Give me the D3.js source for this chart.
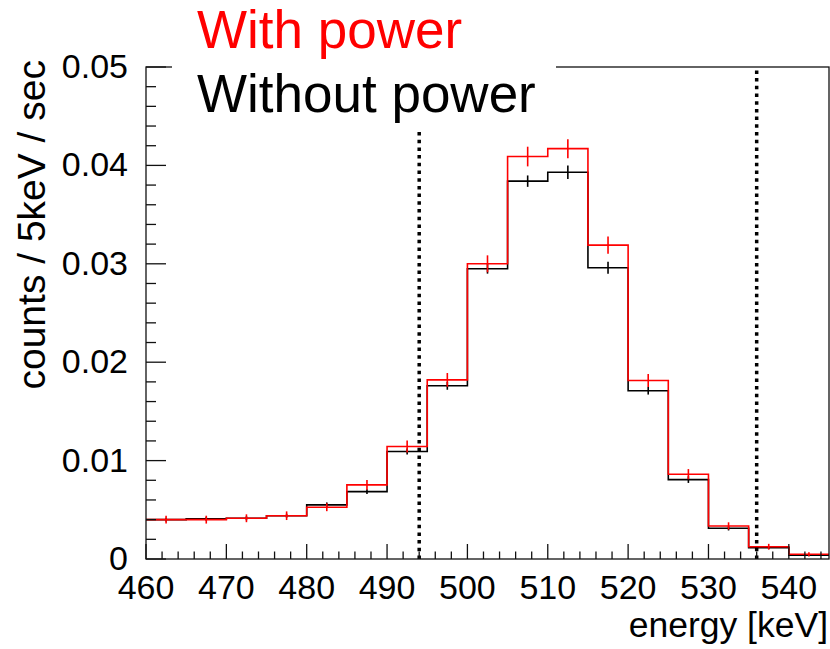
<!DOCTYPE html>
<html>
<head>
<meta charset="utf-8">
<script src="https://cdn.jsdelivr.net/npm/d3@7/dist/d3.min.js"></script>
<style>
  html, body { margin: 0; padding: 0; background: #fff; }
  svg { display: block; }
  text { font-family: "Liberation Sans", Arial, Helvetica, sans-serif; }
</style>
</head>
<body>
<script>
// Energy spectrum, 5 keV bins from 460 to 545 keV
const binLow = [460, 465, 470, 475, 480, 485, 490, 495, 500, 505, 510, 515, 520, 525, 530, 535, 540];
const binWidth = 5;

const withPower = [0.0040, 0.0040, 0.00414, 0.0044, 0.00526, 0.00753, 0.01143, 0.0182, 0.0300, 0.0409, 0.0417, 0.0319, 0.01814, 0.00862, 0.00336, 0.00125, 0.00048];
const withPowerErr = [0.0004, 0.0004, 0.0004, 0.00044, 0.0004, 0.0005, 0.0006, 0.0007, 0.00086, 0.0010, 0.00097, 0.00088, 0.00066, 0.00052, 0.00037, 0.00029, 0.0002];

const withoutPower = [0.0040, 0.00408, 0.00414, 0.0044, 0.0055, 0.00685, 0.01092, 0.0176, 0.0295, 0.0384, 0.0393, 0.0296, 0.0171, 0.00807, 0.00312, 0.00115, 0.00038];
const withoutPowerErr = [0.0002, 0.0002, 0.0002, 0.0002, 0.00025, 0.00025, 0.0003, 0.0004, 0.0005, 0.00058, 0.00068, 0.00061, 0.00039, 0.00034, 0.00022, 0.00015, 0.0001];

const xTicks = [460, 470, 480, 490, 500, 510, 520, 530, 540];
const yTicks = [0, 0.01, 0.02, 0.03, 0.04, 0.05];
const yTickLabels = ["0", "0.01", "0.02", "0.03", "0.04", "0.05"];
const cutLines = [494, 536];

const legendItems = ["With power", "Without power"];
const legendColors = ["#ff0000", "#000000"];

const W = 830, H = 649;
const padL = 146, padR = 829, padT = 67, padB = 559;

const svg = d3.select("body").append("svg").attr("width", W).attr("height", H);

const x = d3.scaleLinear().domain([460, 545]).range([padL, padR]);
const y = d3.scaleLinear().domain([0, 0.05]).range([padB, padT]);

svg.append("defs").append("clipPath").attr("id", "plotClip")
  .append("rect").attr("x", padL).attr("y", padT).attr("width", padR - padL).attr("height", padB - padT);

const plot = svg.append("g").attr("clip-path", "url(#plotClip)");

function drawHist(values, errs, color) {
  const pts = binLow.map((b, i) => [b, values[i]]);
  pts.push([binLow[binLow.length - 1] + binWidth, values[values.length - 1]]);
  const line = d3.line().x(d => x(d[0])).y(d => y(d[1])).curve(d3.curveStepAfter);
  plot.append("path").attr("d", line(pts))
    .attr("fill", "none").attr("stroke", color).attr("stroke-width", 1.6);
  plot.selectAll(null).data(binLow).enter().append("line")
    .attr("x1", (b) => x(b + binWidth / 2)).attr("x2", (b) => x(b + binWidth / 2))
    .attr("y1", (b, i) => y(values[i] - errs[i])).attr("y2", (b, i) => y(values[i] + errs[i]))
    .attr("stroke", color).attr("stroke-width", 1.6);
}

drawHist(withoutPower, withoutPowerErr, "#000000");
drawHist(withPower, withPowerErr, "#ff0000");

// Selection window markers
plot.selectAll(null).data(cutLines).enter().append("line")
  .attr("x1", d => x(d)).attr("x2", d => x(d))
  .attr("y1", padB).attr("y2", padT)
  .attr("stroke", "#000").attr("stroke-width", 3.5)
  .attr("stroke-dasharray", "3.5,4.2");

// Frame
const axisColor = "#111";
svg.append("rect").attr("x", padL).attr("y", padT).attr("width", padR - padL).attr("height", padB - padT)
  .attr("fill", "none").attr("stroke", axisColor).attr("stroke-width", 1.3);

// X ticks (inward)
const xMinor = d3.range(460, 545.001, 2);
svg.selectAll(null).data(xMinor).enter().append("line")
  .attr("x1", d => x(d)).attr("x2", d => x(d))
  .attr("y1", padB).attr("y2", d => padB - (d % 10 === 0 ? 15 : 7.5))
  .attr("stroke", axisColor).attr("stroke-width", 1.3);
svg.selectAll(null).data(xTicks).enter().append("text")
  .attr("x", d => x(d)).attr("y", 599)
  .attr("text-anchor", "middle").attr("font-size", 34).attr("fill", "#000")
  .text(d => d);

// Y ticks (inward)
const yMinor = d3.range(0, 50.001, 2).map(v => v / 1000);
svg.selectAll(null).data(yMinor).enter().append("line")
  .attr("x1", padL).attr("x2", (d, i) => padL + (i % 5 === 0 ? 20 : 10))
  .attr("y1", d => y(d)).attr("y2", d => y(d))
  .attr("stroke", axisColor).attr("stroke-width", 1.3);
svg.selectAll(null).data(yTicks).enter().append("text")
  .attr("x", 128).attr("y", d => y(d) + 11)
  .attr("text-anchor", "end").attr("font-size", 34).attr("fill", "#000")
  .text((d, i) => yTickLabels[i]);

// Axis titles
svg.append("text").attr("x", 828).attr("y", 637)
  .attr("text-anchor", "end").attr("font-size", 35.5).attr("fill", "#000")
  .text("energy [keV]");
svg.append("text")
  .attr("transform", "translate(45,60) rotate(-90)")
  .attr("text-anchor", "end").attr("font-size", 39).attr("fill", "#000")
  .text("counts / 5keV / sec");

// Legend
svg.append("rect").attr("x", 172).attr("y", 0).attr("width", 384).attr("height", 132).attr("fill", "#fff");
svg.selectAll(null).data(legendItems).enter().append("text")
  .attr("x", 197).attr("y", (d, i) => 48 + i * 64)
  .attr("font-size", 53).attr("fill", (d, i) => legendColors[i])
  .text(d => d);
</script>
</body>
</html>
